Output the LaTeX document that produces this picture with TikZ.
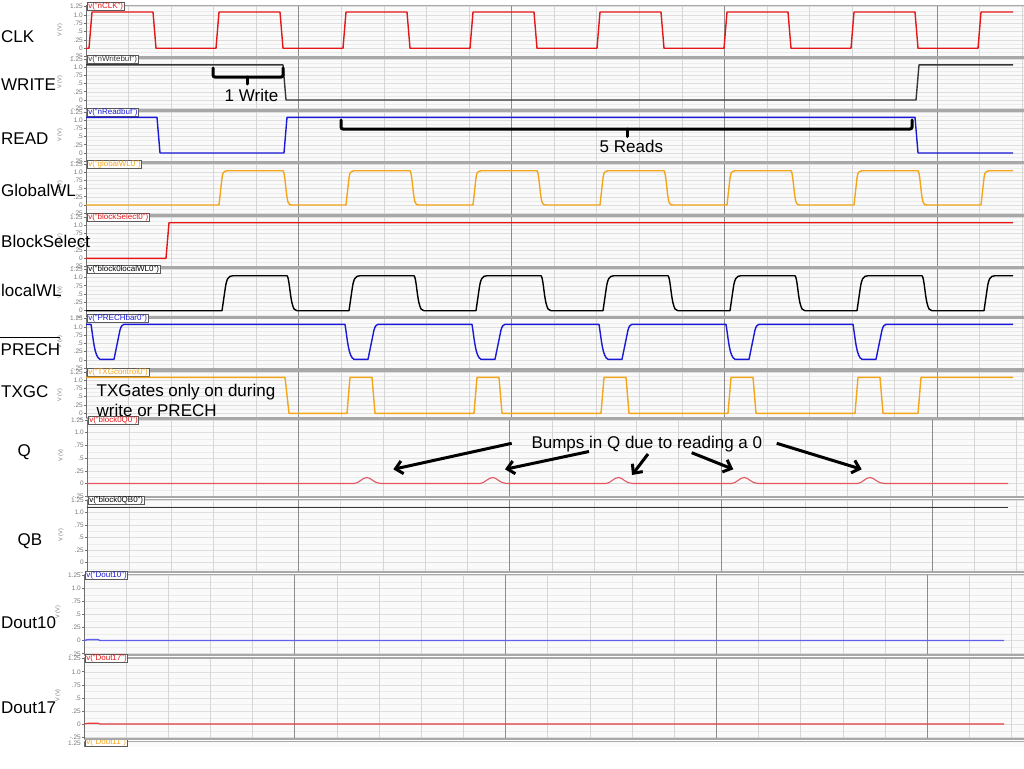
\documentclass[tikz,border=0pt]{standalone}
\usepackage{fontspec}
\setmainfont{Liberation Sans}
\usetikzlibrary{arrows.meta}
\definecolor{clkred}{RGB}{228,22,22}
\definecolor{wgray}{RGB}{55,55,55}
\definecolor{rblue}{RGB}{25,25,215}
\definecolor{orng}{RGB}{245,165,25}
\definecolor{qred}{RGB}{228,85,95}
\definecolor{dblue}{RGB}{95,95,235}
\definecolor{dred}{RGB}{228,60,60}
\definecolor{plotbg}{RGB}{250,250,250}
\definecolor{gridlight}{RGB}{236,236,236}
\definecolor{gridmid}{RGB}{222,222,222}
\definecolor{gridv}{RGB}{214,214,214}
\definecolor{gridmaj}{RGB}{140,140,140}
\definecolor{framegray}{RGB}{168,168,168}
\definecolor{axisgray}{RGB}{110,110,110}
\definecolor{tickgray}{RGB}{120,120,120}
\definecolor{tabedge}{RGB}{90,90,90}
\tikzset{
  sigline/.style={line width=1.4pt, line join=round},
  biglab/.style={font=\fontsize{17}{19}\selectfont, inner sep=0pt, text=black},
  ticklab/.style={font=\fontsize{6.5}{6.5}\selectfont, text=tickgray, inner sep=0pt, anchor=east},
  vlab/.style={font=\fontsize{5.5}{5.5}\selectfont, text=tickgray, inner sep=0pt, rotate=90},
  tabstyle/.style={font=\fontsize{8}{8}\selectfont, draw=tabedge, fill=white, line width=0.5pt, inner xsep=1pt, inner ysep=0.3pt, anchor=west},
  bracket/.style={line width=3pt, rounded corners=2pt, line cap=round},
  callout/.style={line width=3pt, -{Straight Barb[length=7pt,width=13pt]}},
  hgridminor/.style={draw=gridlight, line width=0.5pt},
  hgridmid/.style={draw=gridmid, line width=0.6pt},
  vgridminor/.style={draw=gridv, line width=0.6pt},
  vgridmajor/.style={draw=gridmaj, line width=0.8pt},
  frameline/.style={draw=framegray, line width=1.1pt},
  axisline/.style={draw=axisgray, line width=0.8pt},
  ovl/.style={line width=1.6pt}
}
% #1 top, #2 y of 1.25 V, #3 y of 0 V, #4 bottom, #5 axis x, #6 major spacing, #7 colour, #8 tab text, #9 id
\newcommand\wavepanel[9]{%
  \pgfmathsetmacro\ppv{(#3-#2)/1.25}%
  \fill[white] ({#5-24},#1) rectangle (#5,#4);
  \fill[plotbg] (#5,#1) rectangle (1024,#4);
  \begin{scope}
    \clip (#5,#1) rectangle (1024,#4);
    \foreach \i in {-3,...,11} {
      \pgfmathsetmacro\yy{#3-\i*0.125*\ppv}
      \ifodd\i \draw[hgridminor] (#5,\yy) -- (1024,\yy);
      \else \draw[hgridmid] (#5,\yy) -- (1024,\yy); \fi
    }
    \foreach \j in {1,...,24} {
      \pgfmathsetmacro\xx{#5+\j*#6/5}
      \pgfmathtruncatemacro\mm{mod(\j,5)}
      \ifnum\mm=0 \draw[vgridmajor] (\xx,#1) -- (\xx,#4);
      \else \draw[vgridminor] (\xx,#1) -- (\xx,#4); \fi
    }
  \end{scope}
  \draw[frameline] (#5,#1) -- (1024,#1);
  \draw[frameline] (#5,#4) -- (1024,#4);
  \draw[axisline] (#5,#1) -- (#5,#4);
  \begin{scope}
    \clip ({#5-30},{#1-3}) rectangle (#5,#4);
    \foreach \v/\t [count=\k] in {1.25/1.25,1/1.0,0.75/.75,0.5/.5,0.25/.25,0/0,-0.25/-.25} {
      \pgfmathsetmacro\yy{#3-\v*\ppv}
      \node[ticklab] (p#9t\k) at ({#5-3},\yy) {\t};
      \draw[axisline] ({#5-2},\yy) -- (#5,\yy);
    }
  \end{scope}
  \node[vlab] (p#9v) at ({#5-26},{#3-0.55*\ppv}) {V (V)};
  \node[tabstyle, text=#7] (p#9tab) at ({#5+1},{#2}) {v("#8")};
}
\begin{document}
\begin{tikzpicture}[x=1pt,y=-1pt]
\fill[white] (0,0) rectangle (1024,768);
\useasboundingbox (0,0) rectangle (1024,768);

% ---------- panels ----------
\wavepanel{5.5}{6.7}{48.3}{57}{86}{212.8}{clkred}{nCLK}{a}
\wavepanel{58.5}{59.3}{100}{110}{86}{212.8}{wgray}{nWritebuf}{b}
\wavepanel{111.5}{112}{153}{162}{86}{212.8}{rblue}{nReadbuf}{c}
\wavepanel{163.5}{164.3}{205}{215}{86}{212.8}{orng}{globalWL0}{d}
\wavepanel{216.5}{217.3}{258.3}{267}{86}{212.8}{clkred}{blockSelect0}{e}
\wavepanel{268.5}{269.3}{310.7}{317}{86}{212.8}{black}{block0localWL0}{f}
\wavepanel{318}{318.7}{360}{369}{86}{212.8}{rblue}{PRECHbar0}{g}
\wavepanel{371}{372}{413.3}{418}{86}{212.8}{orng}{TXGcontrol0}{h}
\wavepanel{419.5}{420}{483.7}{497}{87}{211.3}{clkred}{block0Q0}{i}
\wavepanel{499.5}{500}{562.7}{572}{87}{211.3}{black}{block0QB0}{j}
\wavepanel{574.5}{575.3}{640.7}{655}{84}{210.8}{rblue}{Dout10}{k}
\wavepanel{658}{658.7}{724.3}{739}{84}{210.8}{clkred}{Dout17}{l}

% partial last panel
\begin{scope}
  \clip (0,740) rectangle (1024,746.5);
  \fill[white] (60,741) rectangle (84,747);
  \fill[plotbg] (84,741.5) rectangle (1024,747);
  \draw[frameline] (84,741.5) -- (1024,741.5);
  \draw[axisline] (84,741.5) -- (84,747);
  \node[ticklab] (pmt1) at (81,743.2) {1.25};
  \node[tabstyle, text=orng] (pmtab) at (85,742.7) {v("Dout11")};
\end{scope}

% ---------- signals ----------
% CLK
\draw[sigline, clkred] (86,48.3)
  \foreach \k in {0,...,6} { -- ({89+127*\k},48.3) -- ({92+127*\k},12) -- ({153+127*\k},12) -- ({156+127*\k},48.3) }
  -- (978,48.3) -- (981,12) -- (1013,12);
% WRITE
\draw[sigline, wgray] (86,64.8) -- (283,64.8) -- (286,100) -- (916,100) -- (919,64.8) -- (1013,64.8);
% READ
\draw[sigline, rblue] (86,117.3) -- (157,117.3) -- (160,153) -- (284,153) -- (287,117.3) -- (915,117.3) -- (918,153) -- (1013,153);
% GlobalWL
\draw[sigline, orng] (86,205)
  \foreach \k in {0,...,5} { -- ({219+127*\k},205) -- ({222+127*\k},178) .. controls ({223+127*\k},172) .. ({227+127*\k},170.7) -- ({283+127*\k},170.7) .. controls ({285+127*\k},172) and ({286+127*\k},196) .. ({288+127*\k},202) .. controls ({289.5+127*\k},205) .. ({292+127*\k},205) }
  -- (981,205) -- (984,178) .. controls (985,172) .. (989,170.7) -- (1013,170.7);
% BlockSelect
\draw[sigline, clkred] (86,258.3) -- (166,258.3) -- (169,222.7) -- (1013,222.7);
% localWL
\draw[sigline, black] (86,310.7)
  \foreach \k in {0,...,5} { -- ({222+127*\k},310.7) -- ({225+127*\k},290) .. controls ({226.5+127*\k},279) and ({228+127*\k},275.7) .. ({233+127*\k},275.7) -- ({287+127*\k},275.7) .. controls ({289+127*\k},277) and ({290+127*\k},295) .. ({292+127*\k},303) .. controls ({293.5+127*\k},309) and ({294.5+127*\k},310.7) .. ({297+127*\k},310.7) }
  -- (984,310.7) -- (987,290) .. controls (988.5,279) and (990,275.7) .. (995,275.7) -- (1013,275.7);
% PRECH bar
\draw[sigline, rblue] (86,324.3)
  \foreach \d in {91,345,472,599,726,853} { -- (\d,324.3) .. controls ({\d+2.5},340) and ({\d+3.5},357) .. ({\d+9},359.3) -- ({\d+23},359.3) -- ({\d+29},330) .. controls ({\d+30.5},325.5) .. ({\d+33},324.3) }
  -- (1013,324.3);
% TXGC
\draw[sigline, orng] (86,377.3) -- (285,377.3) -- (289,413.3)
  \foreach \r in {347,474,601,728,855} { -- (\r,413.3) -- ({\r+3},377.3) -- ({\r+25},377.3) -- ({\r+28},413.3) }
  -- (918,413.3) -- (921,377.3) -- (1013,377.3);
% Q
\draw[sigline, qred, line width=1.1pt] (87,483.5)
  \foreach \s in {354,479.8,605.6,731.4,857.2} { -- (\s,483.5) .. controls ({\s+5},483.5) and ({\s+8},477.5) .. ({\s+13},477.5) .. controls ({\s+17},477.5) and ({\s+20},483.5) .. ({\s+27},483.5) }
  -- (1008,483.5);
% QB
\draw[sigline, wgray, line width=1.1pt] (87,507.3) -- (1008,507.3);
% Dout10
\draw[sigline, dblue, line width=1.4pt] (84,640.5) -- (88,639.6) -- (98,639.6) -- (100,640.5) -- (1004,640.5);
% Dout17
\draw[sigline, dred, line width=1.1pt] (84,724) -- (88,723.2) -- (98,723.2) -- (100,724) -- (1004,724);

% ---------- annotations ----------
\coordinate (wl) at (213,68);
\coordinate (wr) at (283,68);
\coordinate (wm) at (247,77);
\draw[bracket] (wl) -- (213,77) -- (283,77) -- (wr);
\draw[bracket, rounded corners=0pt] (wm) -- (247,84);
\node[biglab, anchor=base west] (wtext) at (224.5,101) {1 Write};

\coordinate (rl) at (341,120);
\coordinate (rr) at (912,120);
\coordinate (rm) at (627.7,129);
\draw[bracket] (rl) -- (341,129) -- (912,129) -- (rr);
\draw[bracket, rounded corners=0pt] (rm) -- (627.7,136.5);
\node[biglab, anchor=base west] (rtext) at (599.5,152.5) {5 Reads};

\node[biglab, anchor=base west] (txa) at (96.5,396.7) {TXGates only on during};
\node[biglab, anchor=base west] (txb) at (96.5,416) {write or PRECH};

\node[biglab, anchor=base west] (bumps) at (531.3,448.3) {Bumps in Q due to reading a 0};
\coordinate (a1s) at (511.7,443.3); \coordinate (a1e) at (393.3,469.3);
\coordinate (a2s) at (589,451.5);   \coordinate (a2e) at (505,469.3);
\coordinate (a3s) at (648,454);     \coordinate (a3e) at (632,475);
\coordinate (a4s) at (691.7,452.7); \coordinate (a4e) at (733.3,469.3);
\coordinate (a5s) at (776.7,443.3); \coordinate (a5e) at (861.7,469.3);
\draw[callout] (a1s) -- (a1e);
\draw[callout] (a2s) -- (a2e);
\draw[callout] (a3s) -- (a3e);
\draw[callout] (a4s) -- (a4e);
\draw[callout] (a5s) -- (a5e);

% ---------- signal names ----------
\node[biglab, anchor=base west] (lclk) at (1,42) {CLK};
\node[biglab, anchor=base west] (lwrite) at (1,90) {WRITE};
\node[biglab, anchor=base west] (lread) at (1,144) {READ};
\node[biglab, anchor=base west] (lgwl) at (1,196.7) {GlobalWL};
\node[biglab, anchor=base west] (lbs) at (1,247.3) {BlockSelect};
\node[biglab, anchor=base west] (llwl) at (1,296) {localWL};
\node[biglab, anchor=base west] (lprech) at (0.5,355) {PRECH};
\draw[ovl] (0,337.3) -- (60,337.3);
\node[biglab, anchor=base west] (ltxgc) at (1,397.3) {TXGC};
\node[biglab, anchor=base west] (lq) at (17.5,456.5) {Q};
\node[biglab, anchor=base west] (lqb) at (17.5,545) {QB};
\node[biglab, anchor=base west] (ld10) at (1,628.3) {Dout10};
\node[biglab, anchor=base west] (ld17) at (1,713.3) {Dout17};
\end{tikzpicture}
\end{document}
